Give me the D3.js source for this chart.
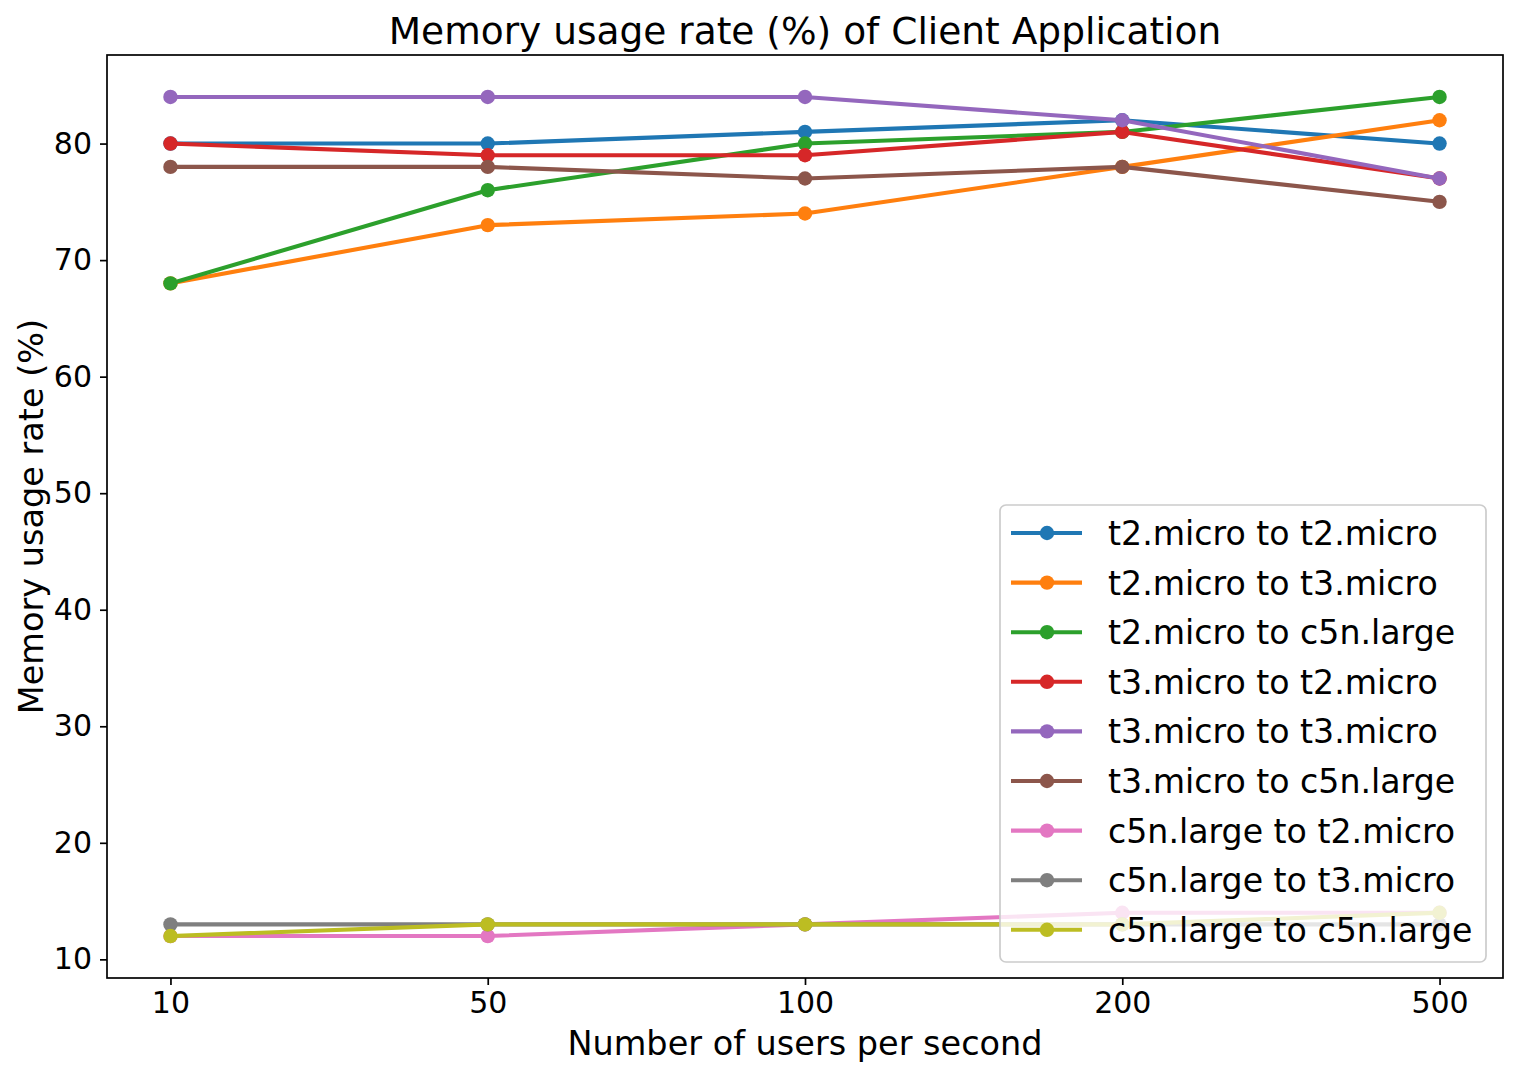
<!DOCTYPE html>
<html><head><meta charset="utf-8">
<script src="https://cdn.jsdelivr.net/npm/d3@7"></script>
<style>body{margin:0;background:#fff;} svg{display:block;font-family:"DejaVu Sans",sans-serif;}</style>
</head><body>
<svg id="chart" width="1517" height="1078"></svg>
<script>
const categories = ["10", "50", "100", "200", "500"];
const seriesNames = [
  "t2.micro to t2.micro", "t2.micro to t3.micro", "t2.micro to c5n.large",
  "t3.micro to t2.micro", "t3.micro to t3.micro", "t3.micro to c5n.large",
  "c5n.large to t2.micro", "c5n.large to t3.micro", "c5n.large to c5n.large"
];
const t2_t2 = [80, 80, 81, 82, 80];
const t2_t3 = [68, 73, 74, 78, 82];
const t2_c5n = [68, 76, 80, 81, 84];
const t3_t2 = [80, 79, 79, 81, 77];
const t3_t3 = [84, 84, 84, 82, 77];
const t3_c5n = [78, 78, 77, 78, 75];
const c5n_t2 = [12, 12, 13, 14, 14];
const c5n_t3 = [13, 13, 13, 13, 13];
const c5n_c5n = [12, 13, 13, 13, 14];
const yTicks = [10, 20, 30, 40, 50, 60, 70, 80];
const colors = ["#1f77b4", "#ff7f0e", "#2ca02c", "#d62728", "#9467bd", "#8c564b", "#e377c2", "#7f7f7f", "#bcbd22"];

const seriesValues = [t2_t2, t2_t3, t2_c5n, t3_t2, t3_t3, t3_c5n, c5n_t2, c5n_t3, c5n_c5n];
const series = seriesNames.map((n, i) => ({name: n, values: seriesValues[i], color: colors[i]}));

const svg = d3.select("#chart");
const L = 107, R = 1503, T = 55, B = 978;
const LW = 4.1, MR = 7.2;

const allVals = seriesValues.flat();
const vmin = d3.min(allVals), vmax = d3.max(allVals);
const pad = (vmax - vmin) * 0.05;
const y = d3.scaleLinear().domain([vmin - pad, vmax + pad]).range([B, T]);
const xi = d3.scaleLinear().domain([-0.2, categories.length - 1 + 0.2]).range([L, R]);

// axes
const xAxis = d3.axisBottom(xi).tickValues(d3.range(categories.length)).tickFormat(i => categories[i]).tickSize(7).tickPadding(7);
const gx = svg.append("g").attr("transform", `translate(0,${B})`).call(xAxis);
const yAxis = d3.axisLeft(y).tickValues(yTicks).tickSize(7).tickPadding(8);
const gy = svg.append("g").attr("transform", `translate(${L},0)`).call(yAxis);
[gx, gy].forEach(g => {
  g.select(".domain").remove();
  g.selectAll(".tick line").attr("stroke", "#000").attr("stroke-width", 1.7);
  g.selectAll(".tick text").attr("fill", "#000").style("font-size", "30px").style("font-family", "DejaVu Sans");
});

// lines
svg.append("defs").append("clipPath").attr("id", "clip").append("rect")
  .attr("x", L).attr("y", T).attr("width", R - L).attr("height", B - T);
const plot = svg.append("g").attr("clip-path", "url(#clip)");
const line = d3.line().x((d, i) => xi(i)).y(d => y(d));
series.forEach(s => {
  const g = plot.append("g");
  g.append("path").datum(s.values).attr("d", line).attr("fill", "none")
    .attr("stroke", s.color).attr("stroke-width", LW).attr("stroke-linejoin", "round").attr("stroke-linecap", "square");
  g.selectAll("circle").data(s.values).join("circle")
    .attr("cx", (d, i) => xi(i)).attr("cy", d => y(d)).attr("r", MR).attr("fill", s.color);
});

// frame
svg.append("rect").attr("x", L).attr("y", T).attr("width", R - L).attr("height", B - T)
  .attr("fill", "none").attr("stroke", "#000").attr("stroke-width", 1.7);

// title & labels
svg.append("text").attr("x", (L + R) / 2).attr("y", 44).attr("text-anchor", "middle")
  .style("font-size", "37.5px").text("Memory usage rate (%) of Client Application");
svg.append("text").attr("x", (L + R) / 2).attr("y", 1055).attr("text-anchor", "middle")
  .style("font-size", "33.5px").text("Number of users per second");
svg.append("text").attr("transform", `translate(43,${(T + B) / 2}) rotate(-90)`).attr("text-anchor", "middle")
  .style("font-size", "33.5px").text("Memory usage rate (%)");

// legend
const lg = svg.append("g");
lg.append("rect").attr("x", 1000).attr("y", 505).attr("width", 486).attr("height", 457).attr("rx", 6)
  .attr("fill", "#fff").attr("fill-opacity", 0.8).attr("stroke", "#cccccc").attr("stroke-width", 1.7);
const rowH = 49.6;
series.forEach((s, i) => {
  const cy = 533 + i * rowH;
  lg.append("line").attr("x1", 1011).attr("x2", 1082).attr("y1", cy).attr("y2", cy)
    .attr("stroke", s.color).attr("stroke-width", LW);
  lg.append("circle").attr("cx", 1047).attr("cy", cy).attr("r", MR).attr("fill", s.color);
  lg.append("text").attr("x", 1108).attr("y", cy).attr("dy", "0.36em")
    .style("font-size", "33.2px").text(s.name);
});
</script>
</body></html>
